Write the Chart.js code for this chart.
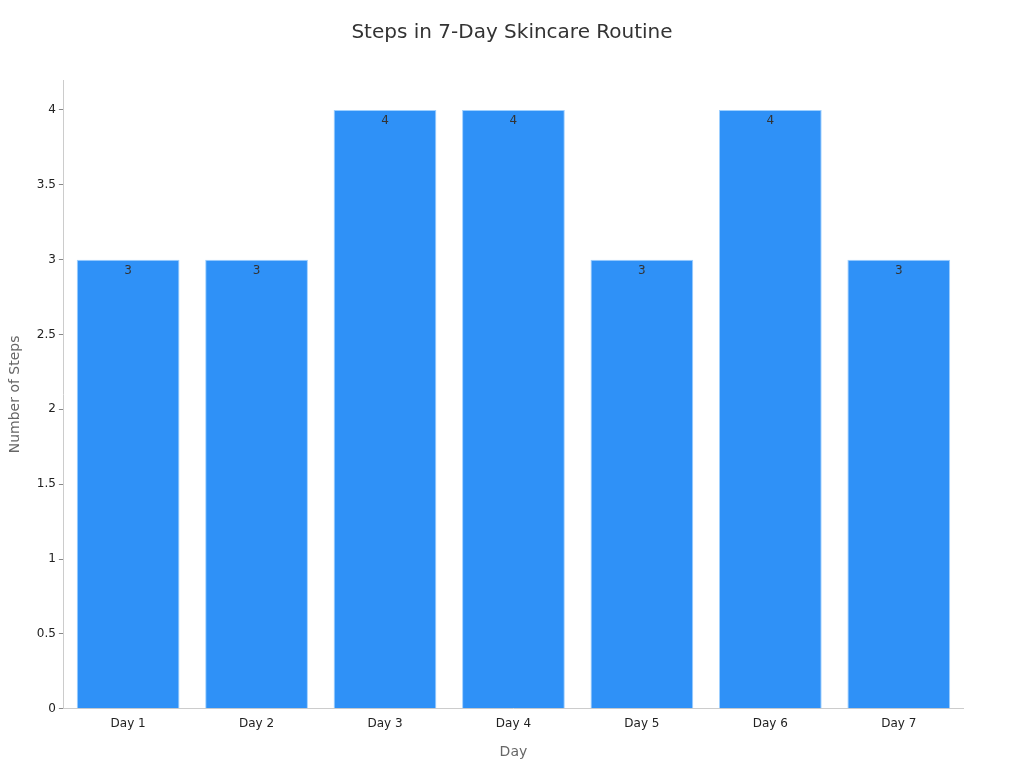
<!DOCTYPE html>
<html lang="en">
<head>
  <meta charset="UTF-8" />
  <title>Steps in 7-Day Skincare Routine</title>
  <script src="https://cdn.jsdelivr.net/npm/chart.js"></script>
  <style>
    html, body {
      margin: 0;
      padding: 0;
      background: #ffffff;
    }
    .wrap {
      width: 1024px;
      height: 768px;
    }
  </style>
</head>
<body>
  <div class="wrap"><canvas id="stepsChart"></canvas></div>

  <script>
    const chartTitle = 'Steps in 7-Day Skincare Routine';
    const days = ['Day 1', 'Day 2', 'Day 3', 'Day 4', 'Day 5', 'Day 6', 'Day 7'];
    const steps = [3, 3, 4, 4, 3, 4, 3];
    const yTicks = [0, 0.5, 1, 1.5, 2, 2.5, 3, 3.5, 4];

    // title centred on the whole canvas, not the plot
    const pageTitle = {
      id: 'pageTitle',
      afterDraw(chart) {
        const ctx = chart.ctx;
        ctx.save();
        ctx.font = '20px "DejaVu Sans", sans-serif';
        ctx.fillStyle = '#333333';
        ctx.textAlign = 'center';
        ctx.textBaseline = 'middle';
        ctx.fillText(chartTitle, chart.width / 2, 33);
        ctx.restore();
      }
    };

    // value labels just inside the top of each bar
    const barLabels = {
      id: 'barLabels',
      afterDatasetsDraw(chart) {
        const ctx = chart.ctx;
        ctx.save();
        ctx.font = '12px "DejaVu Sans", sans-serif';
        ctx.fillStyle = '#333333';
        ctx.textAlign = 'center';
        ctx.textBaseline = 'middle';
        chart.getDatasetMeta(0).data.forEach((bar, i) => {
          ctx.fillText(String(steps[i]), bar.x, bar.y + 11);
        });
        ctx.restore();
      }
    };

    new Chart(document.getElementById('stepsChart'), {
      type: 'bar',
      data: {
        labels: days,
        datasets: [{
          label: 'Number of Steps',
          data: steps,
          backgroundColor: '#2f91f7',
          borderColor: '#9fd0ff',
          borderWidth: 1,
          barPercentage: 0.8,
          categoryPercentage: 1.0
        }]
      },
      options: {
        responsive: true,
        maintainAspectRatio: false,
        animation: false,
        layout: { padding: { left: 3, right: 61, top: 80, bottom: 3 } },
        plugins: {
          legend: { display: false },
          tooltip: { enabled: false },
          title: { display: false }
        },
        scales: {
          x: {
            grid: { display: false, drawTicks: true, tickLength: 5, tickColor: '#888888' },
            border: { display: true, color: '#cccccc' },
            ticks: { color: '#222222', font: { family: '"DejaVu Sans", sans-serif', size: 12 }, padding: 3 },
            title: {
              display: true,
              text: 'Day',
              color: '#666666',
              font: { family: '"DejaVu Sans", sans-serif', size: 14 },
              padding: { top: 10 }
            }
          },
          y: {
            min: 0,
            max: 4.2,
            grid: { display: true, drawOnChartArea: false, tickLength: 5, tickColor: '#888888' },
            border: { display: true, color: '#cccccc' },
            afterBuildTicks(axis) {
              axis.ticks = yTicks.map(v => ({ value: v }));
            },
            ticks: {
              color: '#222222',
              font: { family: '"DejaVu Sans", sans-serif', size: 12 },
              padding: 3,
              callback: v => String(v)
            },
            title: {
              display: true,
              text: 'Number of Steps',
              color: '#666666',
              font: { family: '"DejaVu Sans", sans-serif', size: 14 },
              padding: { bottom: 10 }
            }
          }
        }
      },
      plugins: [barLabels, pageTitle]
    });
  </script>
</body>
</html>
